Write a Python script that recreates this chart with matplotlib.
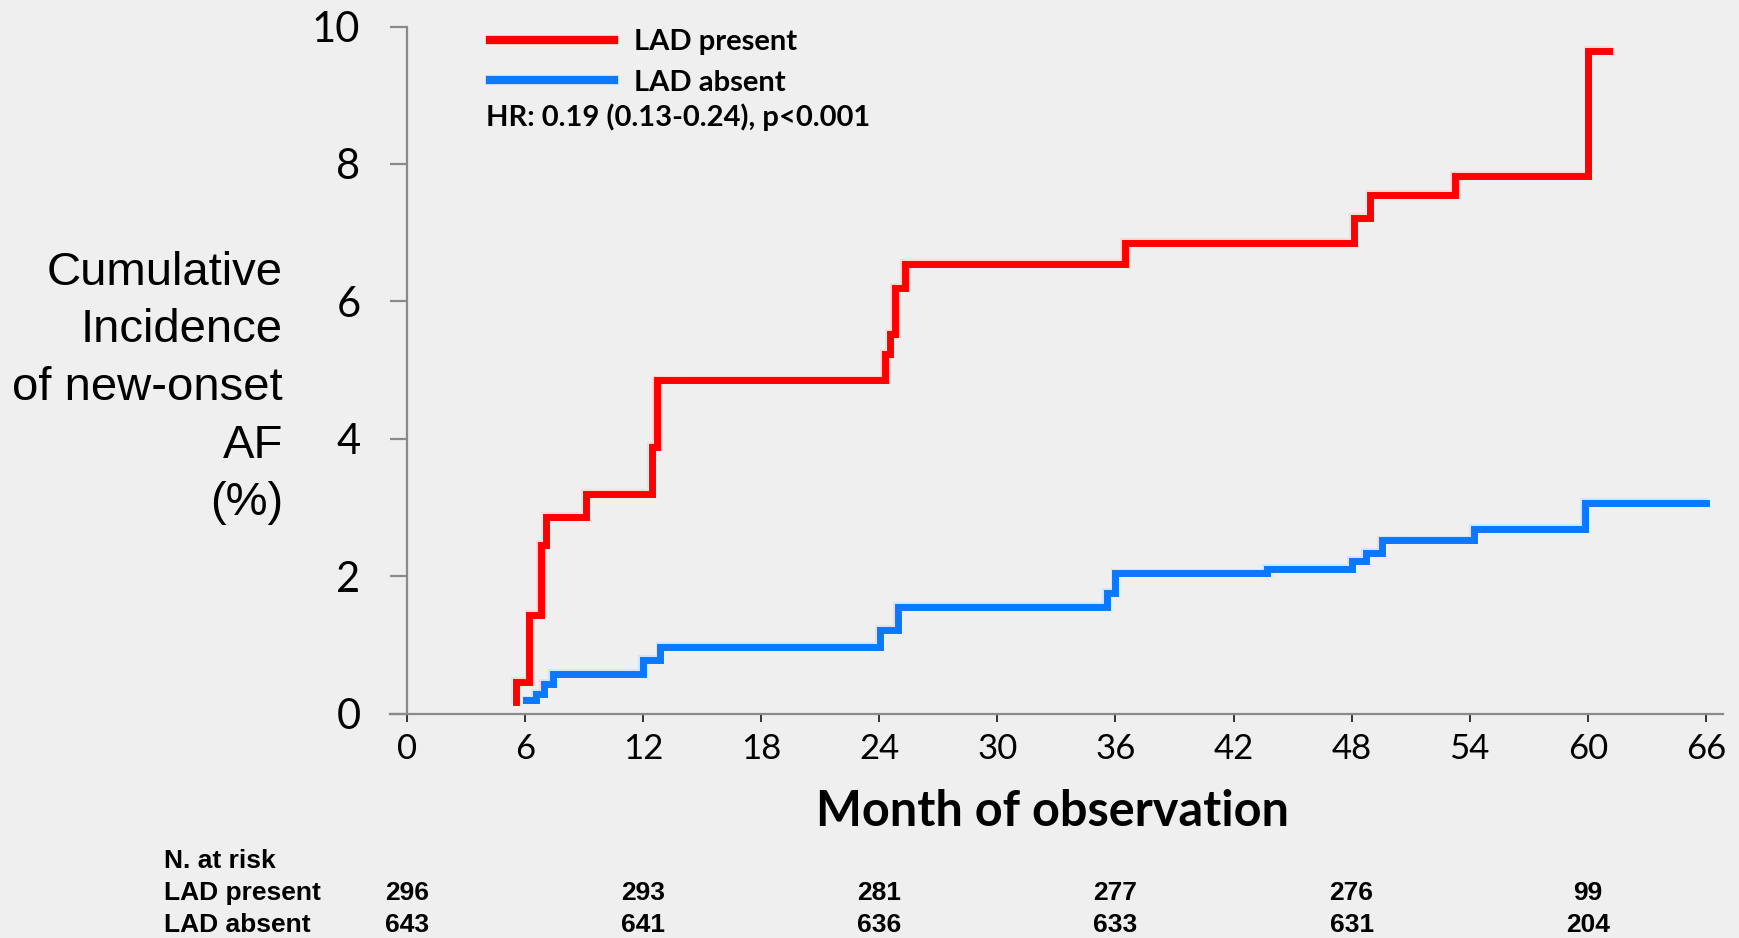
import matplotlib
matplotlib.use("Agg")
import matplotlib.pyplot as plt
import matplotlib.patheffects as pe
from matplotlib.transforms import blended_transform_factory

# Kaplan-Meier style cumulative incidence (%) by month
present_months = [5.55, 5.55, 6.22, 6.79, 7.06, 9.11, 12.43, 12.69, 24.29, 24.53,
                  24.80, 25.30, 36.50, 48.10, 48.93, 53.25, 60.03, 61.10]
present_pct = [0.17, 0.46, 1.43, 2.45, 2.86, 3.20, 3.88, 4.85, 5.23, 5.53,
               6.20, 6.55, 6.85, 7.21, 7.55, 7.83, 9.65, 9.65]

absent_months = [6.07, 6.55, 6.94, 7.43, 11.97, 12.88, 24.03, 24.95, 35.55, 36.00,
                 43.70, 48.00, 48.74, 49.55, 54.20, 59.86, 66.00]
absent_pct = [0.19, 0.29, 0.43, 0.58, 0.78, 0.97, 1.22, 1.55, 1.75, 2.04,
              2.10, 2.22, 2.34, 2.52, 2.69, 3.07, 3.07]

series_labels = ["LAD present", "LAD absent"]
x_ticks = [0, 6, 12, 18, 24, 30, 36, 42, 48, 54, 60, 66]
y_ticks = [0, 2, 4, 6, 8, 10]

risk_months = [0, 12, 24, 36, 48, 60]
risk_present = [296, 293, 281, 277, 276, 99]
risk_absent = [643, 641, 636, 633, 631, 204]

hr_text = "HR: 0.19 (0.13-0.24), p<0.001"

BG = "#EFEFEF"
RED = "#FF0000"
BLUE = "#0A78FF"
AXIS_GRAY = "#8A8A8A"

W, H = 1740, 938
fig = plt.figure(figsize=(W / 100, H / 100), dpi=100, facecolor=BG)
ax = fig.add_axes([390 / W, 1 - 713.5 / H, (1722.6 - 390) / W, (713.5 - 26.6) / H])
ax.set_facecolor(BG)

def halo(color):
    return [pe.Stroke(offset=(-1.3, 1.3), linewidth=5, foreground=color),
            pe.Normal()]

ax.plot(present_months, present_pct, drawstyle="steps-post", color=RED, lw=5,
        solid_joinstyle="miter", label=series_labels[0],
        path_effects=halo("#FFD8D8"), zorder=3)
ax.plot(absent_months, absent_pct, drawstyle="steps-post", color=BLUE, lw=5,
        solid_joinstyle="miter", label=series_labels[1],
        path_effects=halo("#CFE5FB"), zorder=3)

ax.set_xlim(-0.86, 66.85)
ax.set_ylim(0, 10)
ax.spines["left"].set_position(("data", 0))
ax.spines["top"].set_visible(False)
ax.spines["right"].set_visible(False)
for s in ("left", "bottom"):
    ax.spines[s].set_color(AXIS_GRAY)
    ax.spines[s].set_linewidth(1.6)
ax.spines["left"].set_bounds(0, 10)

ax.set_xticks(x_ticks)
ax.set_yticks(y_ticks)
ax.set_xticklabels([str(t) for t in x_ticks], family="Lato", fontsize=25)
ax.set_yticklabels([str(t) for t in y_ticks], family="Lato", fontsize=30)
ax.tick_params(axis="x", direction="out", length=6, width=1.4, color="#333333", pad=8)
ax.tick_params(axis="y", direction="out", length=12.5, width=1.6, color=AXIS_GRAY, pad=21)

ax.set_xlabel("Month of observation", family="Lato", fontweight="bold", fontsize=35)
ax.xaxis.set_label_coords(1053 / W, 1 - 812 / H, transform=fig.transFigure)
ax.xaxis.label.set_verticalalignment("center")

fig.text(283 / W, 1 - 388 / H, "Cumulative\nIncidence\nof new-onset\nAF\n(%)",
         ha="right", va="center", multialignment="right", family="Liberation Sans",
         fontsize=34, linespacing=1.4)

leg = ax.legend(loc="upper left", bbox_to_anchor=(490 / W, 1 - 29 / H),
                bbox_transform=fig.transFigure, frameon=False,
                prop={"family": "Lato", "weight": "bold", "size": 21},
                handlelength=4.25, handletextpad=0.69, labelspacing=0.5,
                borderaxespad=0, borderpad=0)
for h in leg.legend_handles:
    h.set_linewidth(6)
    h.set_path_effects([])

fig.text(486 / W, 1 - 117 / H, hr_text, ha="left", va="center", family="Lato",
         fontweight="bold", fontsize=21)

# numbers at risk below the axis
tbl = dict(family="Liberation Sans", fontweight="bold", fontsize=19, va="center")
fig.text(164 / W, 1 - 861 / H, "N. at risk", ha="left", **tbl)
fig.text(164 / W, 1 - 893 / H, series_labels[0], ha="left", **tbl)
fig.text(164 / W, 1 - 925 / H, series_labels[1], ha="left", **tbl)
trans = blended_transform_factory(ax.transData, fig.transFigure)
for m, p, a in zip(risk_months, risk_present, risk_absent):
    ax.text(m, 1 - 893 / H, str(p), ha="center", transform=trans, clip_on=False, **tbl)
    ax.text(m, 1 - 925 / H, str(a), ha="center", transform=trans, clip_on=False, **tbl)

fig.savefig("out.png", dpi=100, facecolor=BG)
